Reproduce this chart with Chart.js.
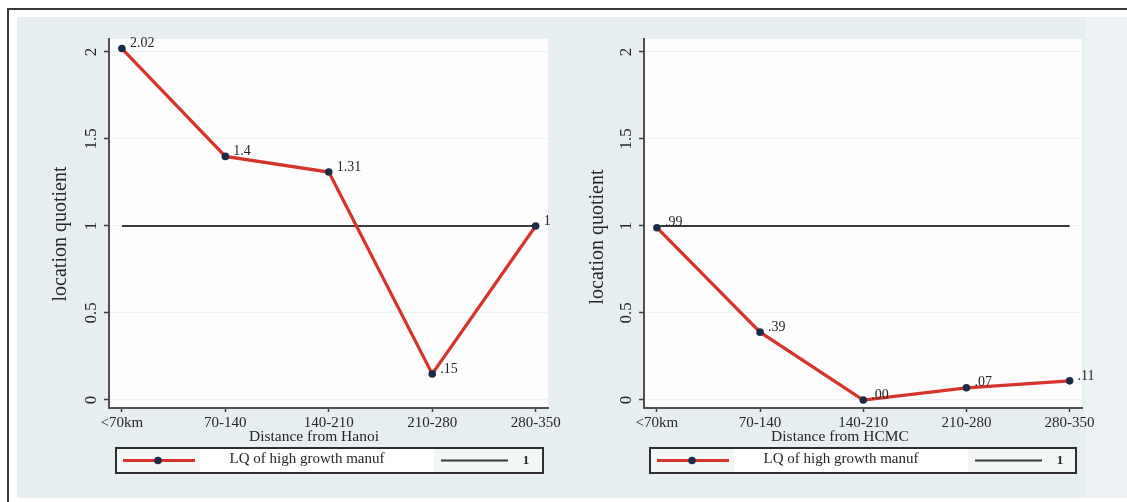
<!DOCTYPE html>
<html>
<head>
<meta charset="utf-8">
<script src="https://cdn.jsdelivr.net/npm/chart.js@4/dist/chart.umd.min.js"></script>
<style>
  html, body { margin: 0; padding: 0; background: #ffffff; }
  body { width: 1127px; height: 502px; position: relative; overflow: hidden; }
  #frame { position: absolute; left: 7px; top: 8px; width: 1130px; height: 510px;
           border-left: 2px solid #3a3a3a; border-top: 2px solid #3a3a3a; }
  #bg { position: absolute; left: 17px; top: 17px; width: 1068px; height: 481px; background: #e7eef1; }
  #bgr { position: absolute; left: 1085px; top: 17px; width: 42px; height: 481px; background: #edf3f5; }
  .panel { position: absolute; top: 0; height: 502px; }
  .panel canvas { display: block; }
</style>
</head>
<body>
<div id="frame"></div>
<div id="bg"></div>
<div id="bgr"></div>
<div class="panel" style="left:0;width:563px"><canvas id="hanoi" width="563" height="502"></canvas></div>
<div class="panel" style="left:563px;width:564px"><canvas id="hcmc" width="564" height="502"></canvas></div>

<script>
// Distance bands and location quotients of high-growth manufacturing
const categories = ['<70km', '70-140', '140-210', '210-280', '280-350'];
const lqHanoi = [2.02, 1.4, 1.31, 0.15, 1];
const lqHCMC = [0.99, 0.39, 0.00, 0.07, 0.11];
const refLine = [1, 1, 1, 1, 1];
const yTickValues = [0, 0.5, 1, 1.5, 2];
const seriesLabel = 'LQ of high growth manuf';
const refLabel = '1';
const yTitle = 'location quotient';

const SERIF = '"Liberation Serif", "DejaVu Serif", serif';
const RED = '#d6342b';
const MARKER = '#1d2c46';
const INK = '#262626';

// value label formats: general (Hanoi) and two decimals (HCMC), no leading zero
const fmtGeneral = v => String(v).replace(/^0\./, '.');
const fmtFixed2 = v => v.toFixed(2).replace(/^0\./, '.');

function toPoints(arr) { return arr.map((v, i) => ({ x: i, y: v })); }

function makePanel(canvasId, values, fmt, opts) {
  const decor = {
    id: 'decor' + canvasId,
    beforeDraw(chart) {
      const { ctx, chartArea: a } = chart;
      ctx.save();
      ctx.fillStyle = '#fdfdfd';
      ctx.fillRect(a.left, a.top, a.right - a.left, a.bottom - a.top);
      ctx.restore();
    },
    afterDatasetsDraw(chart) {
      const { ctx } = chart;
      const meta = chart.getDatasetMeta(0);
      ctx.save();
      ctx.font = '14px ' + SERIF;
      ctx.fillStyle = INK;
      ctx.textAlign = 'left';
      ctx.textBaseline = 'middle';
      meta.data.forEach((pt, i) => {
        ctx.fillText(fmt(values[i]), pt.x + 8, pt.y - 5);
      });
      ctx.restore();
    },
    afterDraw(chart) {
      const { ctx } = chart;
      ctx.save();
      ctx.fillStyle = INK;
      ctx.textAlign = 'center';
      ctx.textBaseline = 'middle';
      // x axis title
      ctx.font = '15.5px ' + SERIF;
      ctx.fillText(opts.xTitle, opts.xTitlePos[0], opts.xTitlePos[1]);
      // y axis title
      ctx.save();
      ctx.translate(opts.yTitlePos[0], opts.yTitlePos[1]);
      ctx.rotate(-Math.PI / 2);
      ctx.font = '20px ' + SERIF;
      ctx.fillText(yTitle, 0, 0);
      ctx.restore();

      // legend box
      const L = opts.legend;
      const top = 448, bottom = 473, mid = (top + bottom) / 2;
      ctx.fillStyle = '#f3f6f7';
      ctx.fillRect(L.left, top, L.right - L.left, bottom - top);
      ctx.fillStyle = '#ffffff';
      ctx.fillRect(L.left + 84, top + 1, 234, bottom - top - 2);
      ctx.strokeStyle = '#2e2e2e';
      ctx.lineWidth = 2;
      ctx.strokeRect(L.left, top, L.right - L.left, bottom - top);
      // series key
      const ds0 = chart.data.datasets[0];
      ctx.strokeStyle = ds0.borderColor;
      ctx.lineWidth = ds0.borderWidth;
      ctx.beginPath();
      ctx.moveTo(L.left + 7, mid);
      ctx.lineTo(L.left + 79, mid);
      ctx.stroke();
      ctx.fillStyle = ds0.pointBackgroundColor;
      ctx.beginPath();
      ctx.arc(L.left + 42, mid, 3.8, 0, Math.PI * 2);
      ctx.fill();
      ctx.fillStyle = INK;
      ctx.font = '15px ' + SERIF;
      ctx.fillText(ds0.label, L.left + 191, mid - 1);
      // reference key
      const ds1 = chart.data.datasets[1];
      ctx.strokeStyle = ds1.borderColor;
      ctx.lineWidth = ds1.borderWidth;
      ctx.beginPath();
      ctx.moveTo(L.left + 325, mid);
      ctx.lineTo(L.left + 392, mid);
      ctx.stroke();
      ctx.fillStyle = INK;
      ctx.font = 'bold 13px ' + SERIF;
      ctx.fillText(ds1.label, L.left + 410, mid);
      ctx.restore();
    }
  };

  return new Chart(document.getElementById(canvasId), {
    type: 'line',
    data: {
      datasets: [
        {
          label: seriesLabel,
          data: toPoints(values),
          borderColor: RED,
          borderWidth: 3.2,
          pointRadius: 3.8,
          pointBackgroundColor: MARKER,
          pointBorderWidth: 0,
          tension: 0
        },
        {
          label: refLabel,
          data: toPoints(refLine),
          borderColor: '#3a3a3a',
          borderWidth: 2,
          pointRadius: 0,
          tension: 0
        }
      ]
    },
    options: {
      responsive: false,
      animation: false,
      devicePixelRatio: 1,
      layout: { padding: { left: 0, top: 39, right: opts.padRight, bottom: 0 } },
      plugins: { legend: { display: false }, tooltip: { enabled: false }, title: { display: false } },
      scales: {
        x: {
          type: 'linear',
          min: -0.125,
          max: 4.12,
          afterBuildTicks(scale) { scale.ticks = categories.map((c, i) => ({ value: i })); },
          afterFit(scale) { scale.height = 94; },
          ticks: {
            callback: v => categories[v],
            autoSkip: false,
            maxRotation: 0,
            minRotation: 0,
            padding: 2,
            color: INK,
            font: { family: SERIF, size: 15 }
          },
          grid: { drawOnChartArea: false, drawTicks: true, tickLength: 4, tickColor: '#3a3a3a', tickWidth: 1.5 },
          border: { color: '#505050', width: 2 }
        },
        y: {
          type: 'linear',
          min: -0.046,
          max: 2.0747,
          afterBuildTicks(scale) { scale.ticks = yTickValues.map(v => ({ value: v })); },
          afterFit(scale) { scale.width = opts.yWidth; },
          ticks: {
            callback: v => String(v),
            minRotation: 90,
            maxRotation: 90,
            crossAlign: 'center',
            padding: 2,
            color: INK,
            font: { family: SERIF, size: 17 }
          },
          grid: { color: '#edf1f3', lineWidth: 1, drawTicks: true, tickLength: 5, tickColor: '#3a3a3a', tickWidth: 1.5 },
          border: { color: '#505050', width: 2 }
        }
      }
    },
    plugins: [decor]
  });
}

makePanel('hanoi', lqHanoi, fmtGeneral, {
  xTitle: 'Distance from Hanoi',
  xTitlePos: [314, 437],
  yTitlePos: [61, 234],
  legend: { left: 116, right: 543 },
  padRight: 13,
  yWidth: 109
});

makePanel('hcmc', lqHCMC, fmtFixed2, {
  xTitle: 'Distance from HCMC',
  xTitlePos: [277, 437],
  yTitlePos: [35, 237],
  legend: { left: 87, right: 513 },
  padRight: 45,
  yWidth: 81
});
</script>
</body>
</html>
